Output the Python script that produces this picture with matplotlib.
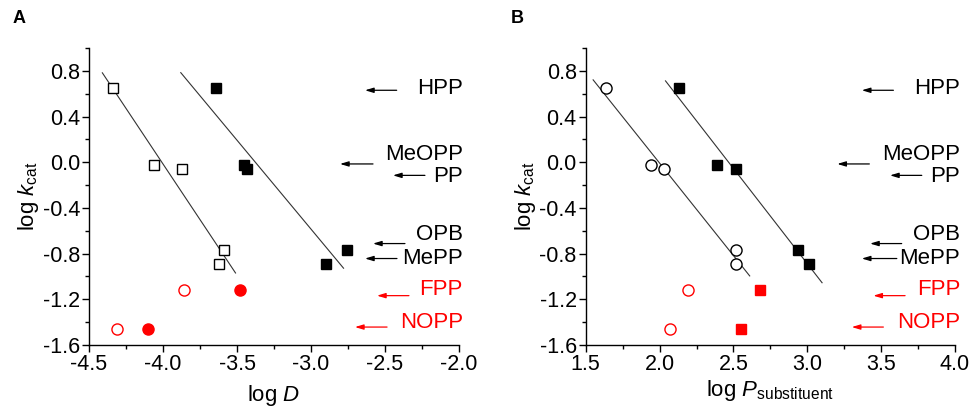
import numpy as np
import matplotlib
matplotlib.use("Agg")
import matplotlib.pyplot as plt
from matplotlib.ticker import MultipleLocator

plt.rcParams['font.family'] = ['Liberation Sans', 'DejaVu Sans']
plt.rcParams['mathtext.fontset'] = 'custom'
plt.rcParams['mathtext.rm'] = 'Liberation Sans'
plt.rcParams['mathtext.it'] = 'Liberation Sans:italic'
plt.rcParams['axes.unicode_minus'] = False

# panel A data (log D)
a_open_x = [-4.34, -4.06, -3.87, -3.59, -3.62]
a_fill_x = [-3.64, -3.45, -3.43, -2.76, -2.90]
logk = [0.65, -0.02, -0.06, -0.77, -0.89]
a_red_open_x = [-3.86, -4.31]
a_red_fill_x = [-3.48, -4.10]
logk_red = [-1.115, -1.46]

# panel B data (log P substituent)
b_open_x = [1.64, 1.94, 2.03, 2.52, 2.52]
b_fill_x = [2.13, 2.39, 2.52, 2.94, 3.01]
b_red_open_x = [2.19, 2.07]
b_red_fill_x = [2.68, 2.55]

names = ['HPP', 'MeOPP', 'PP', 'OPB', 'MePP', 'FPP', 'NOPP']
name_colors = ['black'] * 5 + ['red'] * 2
arrow_y = [0.63, -0.015, -0.115, -0.712, -0.843, -1.168, -1.443]
text_y = [0.648, 0.071, -0.129, -0.634, -0.843, -1.110, -1.40]
a_arrow_tail = [-2.421, -2.581, -2.230, -2.365, -2.419, -2.338, -2.486]
a_arrow_head = [-2.635, -2.804, -2.446, -2.581, -2.635, -2.554, -2.703]
b_arrow_tail = [3.583, 3.420, 3.775, 3.639, 3.606, 3.662, 3.515]
b_arrow_head = [3.369, 3.203, 3.560, 3.425, 3.369, 3.447, 3.301]

fig = plt.figure(figsize=(9.73, 4.15), dpi=100)
axA = fig.add_axes([0.0915, 0.1687, 0.3802, 0.7156])
axB = fig.add_axes([0.602, 0.1687, 0.3795, 0.7156])


def fit_line(ax, x, y, xr):
    k, b = np.polyfit(x, y, 1)
    xs = np.array(xr)
    ax.plot(xs, k * xs + b, color='#333333', lw=0.8)


def style(ax, xlim, xmajor):
    ax.set_xlim(*xlim)
    ax.set_ylim(-1.6, 1.0)
    ax.set_yticks(np.arange(-1.6, 0.81, 0.4))
    ax.xaxis.set_major_locator(MultipleLocator(xmajor))
    ax.xaxis.set_minor_locator(MultipleLocator(xmajor / 2))
    ax.yaxis.set_minor_locator(MultipleLocator(0.2))
    ax.spines['top'].set_visible(False)
    ax.spines['right'].set_visible(False)
    for s in ('left', 'bottom'):
        ax.spines[s].set_linewidth(1.0)
    ax.tick_params(which='major', labelsize=15.5, length=5, width=1, pad=1.5)
    ax.tick_params(which='minor', length=3, width=1)
    ax.set_ylabel(r'log $k_{\mathrm{cat}}$', fontsize=16, labelpad=1)


def annotate(ax, tails, heads, tx):
    for n, c, ay, ty, t, h in zip(names, name_colors, arrow_y, text_y, tails, heads):
        ax.annotate('', xy=(h, ay), xytext=(t, ay), annotation_clip=False,
                    arrowprops=dict(arrowstyle='-|>,head_length=0.5,head_width=0.15',
                                    color=c, lw=0.9, shrinkA=0, shrinkB=0))
        ax.text(tx, ty, n, color=c, fontsize=16, ha='right', va='center', clip_on=False)


sq = dict(marker='s', ms=7.5, ls='none')
ci = dict(marker='o', ms=8, ls='none')

# panel A
fit_line(axA, a_open_x, logk, [-4.41, -3.51])
fit_line(axA, a_fill_x, logk, [-3.88, -2.78])
axA.plot(a_open_x, logk, mfc='white', mec='black', mew=1, **sq)
axA.plot(a_fill_x, logk, color='black', **sq)
axA.plot(a_red_open_x, logk_red, mfc='white', mec='red', mew=1, **ci)
axA.plot(a_red_fill_x, logk_red, color='red', **ci)
style(axA, (-4.5, -2.0), 0.5)
axA.set_xlabel(r'log $\it{D}$', fontsize=16, labelpad=6)
annotate(axA, a_arrow_tail, a_arrow_head, -1.973)

# panel B
fit_line(axB, b_open_x, logk, [1.55, 2.61])
fit_line(axB, b_fill_x, logk, [2.04, 3.10])
axB.plot(b_open_x, logk, mfc='white', mec='black', mew=1, **ci)
axB.plot(b_fill_x, logk, color='black', **sq)
axB.plot(b_red_open_x, logk_red, mfc='white', mec='red', mew=1, **ci)
axB.plot(b_red_fill_x, logk_red, color='red', **sq)
style(axB, (1.5, 4.0), 0.5)
axB.set_xlabel(r'log $\it{P}_{\mathrm{substituent}}$', fontsize=16, labelpad=2)
annotate(axB, b_arrow_tail, b_arrow_head, 4.034)

fig.text(0.013, 0.955, 'A', fontsize=13, fontweight='bold', va='center')
fig.text(0.525, 0.955, 'B', fontsize=13, fontweight='bold', va='center')

fig.savefig('out.png', dpi=100)
